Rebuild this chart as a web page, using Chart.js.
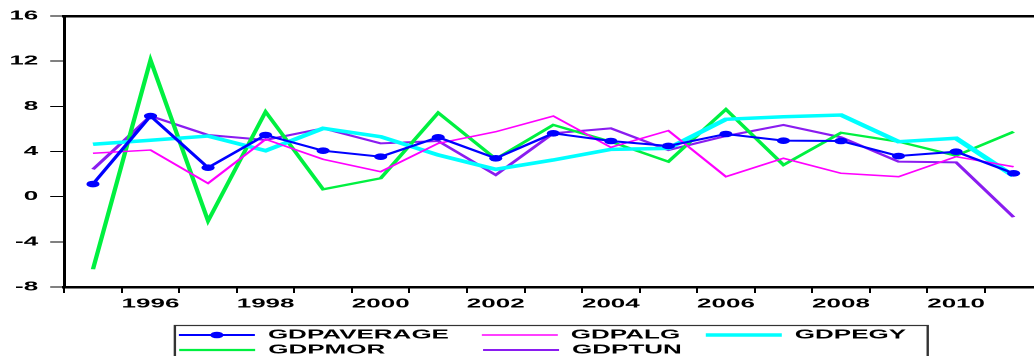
<!DOCTYPE html>
<html>
<head>
<meta charset="utf-8">
<script src="https://cdn.jsdelivr.net/npm/chart.js@4.4.1/dist/chart.umd.min.js"></script>
<style>
  html, body { margin: 0; padding: 0; background: #fff; width: 1034px; height: 356px; overflow: hidden; }
  /* the original picture is stretched sideways, so draw narrow and stretch it */
  #wrap { width: 530px; height: 380px; transform: scaleX(2); transform-origin: 0 0; }
</style>
</head>
<body>
<div id="wrap"><canvas id="myChart"></canvas></div>
<script>
const years = ['1995', '1996', '1997', '1998', '1999', '2000', '2001', '2002', '2003',
               '2004', '2005', '2006', '2007', '2008', '2009', '2010', '2011'];

const gdpAverage = [1.12, 7.14, 2.57, 5.46, 4.07, 3.54, 5.26, 3.40, 5.61, 4.93, 4.49, 5.55, 4.96, 4.93, 3.60, 3.98, 2.07];
const gdpAlg     = [3.84, 4.13, 1.18, 5.08, 3.31, 2.21, 4.72, 5.75, 7.14, 4.37, 5.85, 1.77, 3.40, 2.07, 1.77, 3.54, 2.65];
const gdpEgy     = [4.64, 5.00, 5.37, 4.07, 6.05, 5.31, 3.69, 2.42, 3.25, 4.19, 4.28, 6.85, 7.08, 7.23, 4.87, 5.17, 1.83];
const gdpMor     = [-6.43, 12.10, -2.15, 7.52, 0.65, 1.63, 7.43, 3.34, 6.35, 4.87, 3.10, 7.73, 2.81, 5.66, 4.87, 3.63, 5.75];
const gdpTun     = [2.42, 7.14, 5.46, 5.02, 6.05, 4.72, 4.93, 1.92, 5.61, 6.05, 4.13, 5.37, 6.35, 5.26, 3.10, 3.04, -1.82];

const seriesNames = ['GDPAVERAGE', 'GDPALG', 'GDPEGY', 'GDPMOR', 'GDPTUN'];
const seriesData = [gdpAverage, gdpAlg, gdpEgy, gdpMor, gdpTun];

const yTicks = [-8, -4, 0, 4, 8, 12, 16];

// styles
const seriesColors = ['#0000ff', '#ff00ff', '#00ffff', '#00f040', '#8a1cf0'];
const seriesWidths = [2, 1.5, 3.5, 2.2, 2];
const FONT = '"Liberation Sans", Arial, sans-serif';

// legend is laid out in 2 rows, columns lined up -> pad the label text with spaces
const legendTextWidths = [106.5, 64, 66.3, 106.5, 176.8];
const measureCtx = document.createElement('canvas').getContext('2d');
measureCtx.font = 'bold 13px ' + FONT;
function padLabel(text, target) {
  let s = text;
  const w = t => measureCtx.measureText(t).width;
  while (Math.abs(w(s + ' ') - target) < Math.abs(w(s) - target)) s += ' ';
  return s;
}
const legendTexts = seriesNames.map((n, i) => padLabel(n, legendTextWidths[i]));

Chart.defaults.font.family = FONT;
Chart.defaults.font.size = 13;
Chart.defaults.font.weight = 'bold';
Chart.defaults.color = '#000';

const datasets = seriesData.map((vals, i) => ({
  label: seriesNames[i],
  data: vals,
  borderColor: seriesColors[i],
  backgroundColor: seriesColors[i],
  borderWidth: seriesWidths[i],
  pointRadius: i === 0 ? 3.3 : 0,
  pointHoverRadius: i === 0 ? 3.3 : 0,
  pointBackgroundColor: seriesColors[i],
  pointBorderWidth: 0,
  tension: 0
}));

// frame round the legend + the dot on the average swatch
const legendFrame = {
  id: 'legendFrame',
  afterDraw(chart) {
    const lg = chart.legend;
    const boxes = lg.legendHitBoxes;
    const bw = lg.options.labels.boxWidth;
    const ctx = chart.ctx;
    ctx.save();
    ctx.strokeStyle = '#333';
    ctx.lineWidth = 1.2;
    const left = boxes[0].left - 2;
    const top = boxes[0].top - 3;
    const right = boxes[2].left + boxes[2].width;
    ctx.strokeRect(left, top, right - left, 40);
    ctx.fillStyle = seriesColors[0];
    ctx.beginPath();
    ctx.arc(boxes[0].left + bw / 2, boxes[0].top + boxes[0].height / 2, 3.3, 0, Math.PI * 2);
    ctx.fill();
    ctx.restore();
  }
};

const config = {
  type: 'line',
  data: { labels: years, datasets: datasets },
  options: {
    responsive: true,
    maintainAspectRatio: false,
    devicePixelRatio: 2,
    animation: false,
    layout: { padding: { left: 5.6, right: 8.8, top: 16, bottom: 13.5 } },
    scales: {
      x: {
        type: 'category',
        offset: true,
        grid: { display: true, drawOnChartArea: false, drawTicks: true, tickLength: 6, color: '#000', lineWidth: 1, offset: true },
        border: { display: true, color: '#000', width: 2.5 },
        ticks: {
          autoSkip: false, maxRotation: 0, padding: 3,
          callback: function(value, index) {
            const y = years[index];
            return Number(y) % 2 === 0 ? y : '';
          }
        },
        afterFit(scale) { scale.height = 39.5; }
      },
      xTop: {
        type: 'category',
        position: 'top',
        grid: { display: false, drawTicks: false },
        border: { display: true, color: '#000', width: 2.5 },
        ticks: { display: false }
      },
      y: {
        min: -8, max: 16,
        afterBuildTicks(scale) { scale.ticks = yTicks.map(v => ({ value: v })); },
        grid: { display: true, drawOnChartArea: false, drawTicks: true, tickLength: 7, color: '#000', lineWidth: 1 },
        border: { display: true, color: '#000', width: 1.5 },
        ticks: { padding: 6 },
        afterFit(scale) { scale.width = 26.5; }
      }
    },
    plugins: {
      tooltip: { enabled: false },
      legend: {
        position: 'bottom',
        fullSize: false,
        align: 'center',
        labels: {
          boxWidth: 38,
          boxHeight: 0,
          padding: 2,
          color: '#000',
          font: { size: 13, weight: 'bold' },
          generateLabels(chart) {
            return Chart.defaults.plugins.legend.labels.generateLabels(chart)
              .map((item, i) => Object.assign(item, { text: legendTexts[i] }));
          }
        }
      }
    }
  },
  plugins: [legendFrame]
};

const myChart = new Chart(document.getElementById('myChart'), config);
</script>
</body>
</html>
